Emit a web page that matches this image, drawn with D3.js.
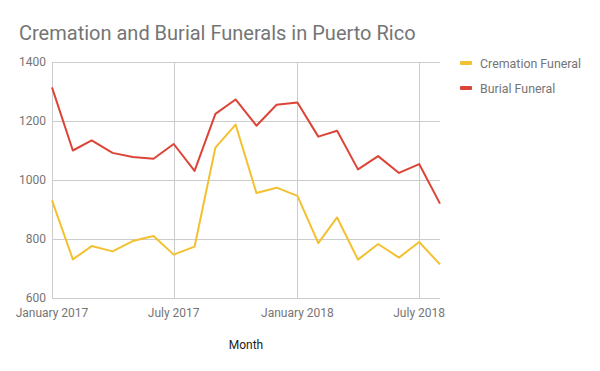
<!DOCTYPE html>
<html>
<head>
<meta charset="utf-8">
<script src="https://cdn.jsdelivr.net/npm/d3@7"></script>
<style>
  body { margin: 0; background: #fff; }
  svg { display: block; font-family: Roboto, "Noto Sans", sans-serif; }
</style>
</head>
<body>
<svg id="chart"></svg>
<script>
// monthly data, January 2017 .. August 2018
const months = ["2017-01", "2017-02", "2017-03", "2017-04", "2017-05", "2017-06", "2017-07",
  "2017-08", "2017-09", "2017-10", "2017-11", "2017-12", "2018-01", "2018-02", "2018-03",
  "2018-04", "2018-05", "2018-06", "2018-07", "2018-08"];
const cremation = [931, 731, 776, 758, 793, 810, 747, 774, 1110, 1188, 956, 974, 946, 786, 873, 730, 783, 737, 790, 714];
const burial = [1314, 1100, 1134, 1092, 1078, 1072, 1122, 1031, 1224, 1273, 1184, 1255, 1263, 1147, 1167, 1036, 1081, 1024, 1054, 920];
const yTicks = [600, 800, 1000, 1200, 1400];
const xTicks = ["2017-01", "2017-07", "2018-01", "2018-07"];

const seriesNames = ["Cremation Funeral", "Burial Funeral"];
const colors = ["#f3c130", "#dc4437"];

const width = 600, height = 371;
const margin = { top: 62, right: 160, bottom: 73, left: 52 };
const parse = d3.timeParse("%Y-%m");
const dates = months.map(parse);

const svg = d3.select("#chart").attr("width", width).attr("height", height);

const x = d3.scaleTime()
  .domain(d3.extent(dates))
  .range([margin.left, width - margin.right]);
const y = d3.scaleLinear()
  .domain([600, 1400])
  .range([height - margin.bottom, margin.top]);

// title
svg.append("text")
  .attr("x", 19).attr("y", 40)
  .attr("fill", "#757575")
  .style("font-size", "20px")
  .text("Cremation and Burial Funerals in Puerto Rico");

// horizontal gridlines
svg.append("g").selectAll("line").data(yTicks).join("line")
  .attr("x1", margin.left).attr("x2", width - margin.right)
  .attr("y1", d => Math.round(y(d)) + 0.5).attr("y2", d => Math.round(y(d)) + 0.5)
  .attr("stroke", "#cccccc");

// vertical gridlines
svg.append("g").selectAll("line").data(xTicks.map(parse)).join("line")
  .attr("x1", d => Math.round(x(d)) + 0.5).attr("x2", d => Math.round(x(d)) + 0.5)
  .attr("y1", margin.top).attr("y2", height - margin.bottom)
  .attr("stroke", "#cccccc");

// y tick labels
svg.append("g").selectAll("text").data(yTicks).join("text")
  .attr("x", 46).attr("y", d => y(d) + 4)
  .attr("text-anchor", "end")
  .attr("fill", "#757575")
  .style("font-size", "12px")
  .text(d => d);

// x tick labels
const fmt = d3.timeFormat("%B %Y");
svg.append("g").selectAll("text").data(xTicks.map(parse)).join("text")
  .attr("x", d => x(d)).attr("y", 317)
  .attr("text-anchor", "middle")
  .attr("fill", "#757575")
  .style("font-size", "12px")
  .text(d => fmt(d));

// axis title
svg.append("text")
  .attr("x", 246).attr("y", 349)
  .attr("text-anchor", "middle")
  .attr("fill", "#222")
  .style("font-size", "12px")
  .text("Month");

// lines
const line = d3.line().x((d, i) => x(dates[i])).y(d => y(d));
[cremation, burial].forEach((vals, i) => {
  svg.append("path")
    .datum(vals)
    .attr("d", line)
    .attr("fill", "none")
    .attr("stroke", colors[i])
    .attr("stroke-width", 2)
    .attr("stroke-linejoin", "round");
});

// legend
const legend = svg.append("g").selectAll("g").data(seriesNames).join("g")
  .attr("transform", (d, i) => `translate(460, ${63 + i * 25})`);
legend.append("rect")
  .attr("x", 0).attr("y", -2).attr("width", 12).attr("height", 4)
  .attr("rx", 1)
  .attr("fill", (d, i) => colors[i]);
legend.append("text")
  .attr("x", 20).attr("y", 4.5)
  .attr("fill", "#757575")
  .style("font-size", "12.4px")
  .text(d => d);
</script>
</body>
</html>
